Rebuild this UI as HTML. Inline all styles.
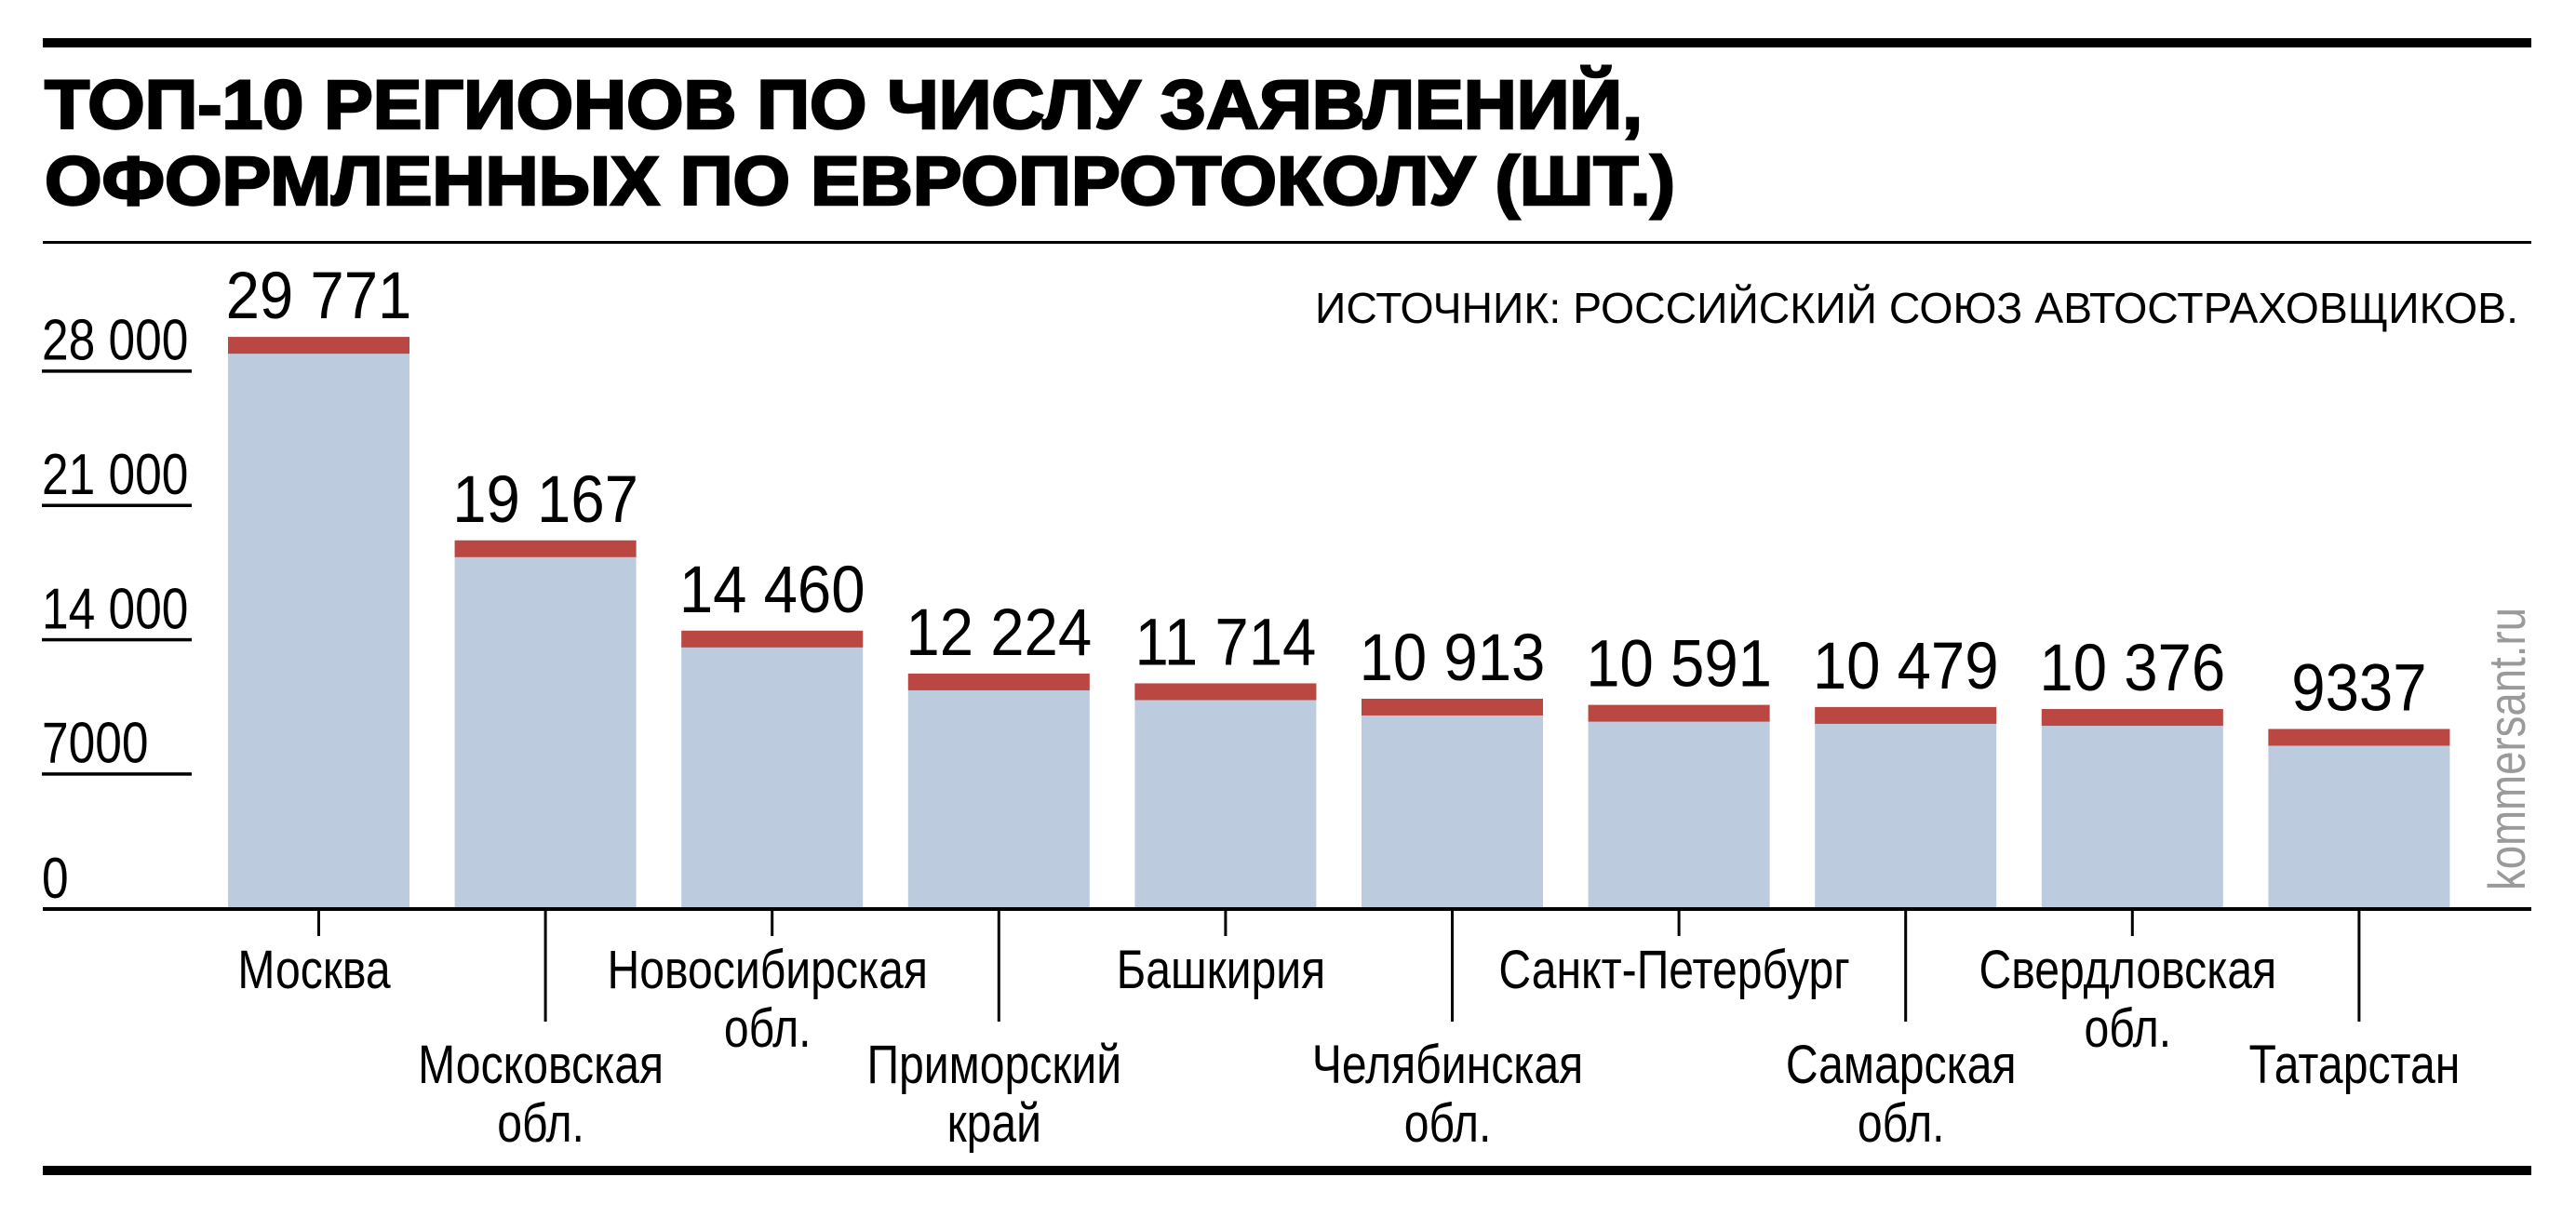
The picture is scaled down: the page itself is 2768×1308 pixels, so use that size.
<!DOCTYPE html>
<html><head><meta charset="utf-8"><style>
html,body{margin:0;padding:0;background:#fff;}
svg{display:block;font-family:"Liberation Sans","DejaVu Sans",sans-serif;}
</style></head><body>
<svg id="chart" width="2768" height="1308" viewBox="0 0 2768 1308" xmlns="http://www.w3.org/2000/svg">
<rect x="46" y="41" width="2674" height="10" fill="#000"/>
<text x="48" y="138" font-size="74" font-weight="bold" stroke="#000" stroke-width="2.5" textLength="1717" lengthAdjust="spacingAndGlyphs">ТОП-10 РЕГИОНОВ ПО ЧИСЛУ ЗАЯВЛЕНИЙ,</text>
<text x="48" y="220" font-size="74" font-weight="bold" stroke="#000" stroke-width="2.5" textLength="1752" lengthAdjust="spacingAndGlyphs">ОФОРМЛЕННЫХ ПО ЕВРОПРОТОКОЛУ (ШТ.)</text>
<rect x="46" y="259" width="2674" height="3" fill="#000"/>
<text x="1413" y="347" font-size="46" textLength="1293" lengthAdjust="spacingAndGlyphs">ИСТОЧНИК: РОССИЙСКИЙ СОЮЗ АВТОСТРАХОВЩИКОВ.</text>
<g id="yaxis"></g>
<g id="bars"></g>
<g id="xaxis"></g>
<rect x="46" y="975" width="2674" height="4" fill="#000"/>
<text transform="translate(2713,957) rotate(-90)" font-size="56" fill="#9a9a9a" textLength="304" lengthAdjust="spacingAndGlyphs">kommersant.ru</text>
<rect x="46" y="1253" width="2674" height="10" fill="#000"/>
</svg>
<script>
const categories = ["Москва","Московская обл.","Новосибирская обл.","Приморский край","Башкирия","Челябинская обл.","Санкт-Петербург","Самарская обл.","Свердловская обл.","Татарстан"];
const categoryLines = [["Москва"],["Московская","обл."],["Новосибирская","обл."],["Приморский","край"],["Башкирия"],["Челябинская","обл."],["Санкт-Петербург"],["Самарская","обл."],["Свердловская","обл."],["Татарстан"]];
const values = [29771,19167,14460,12224,11714,10913,10591,10479,10376,9337];
const valueLabels = ["29 771","19 167","14 460","12 224","11 714","10 913","10 591","10 479","10 376","9337"];
const yTicks = [0,7000,14000,21000,28000];
const yTickLabels = ["0","7000","14 000","21 000","28 000"];

const NS = "http://www.w3.org/2000/svg";
const zeroY = 976, k = 0.02062;
function yScale(v){ return zeroY - v * k; }
const barW = 195, pitch = 243.6, x0 = 245;
function xLeft(i){ return x0 + i * pitch; }
function xCenter(i){ return xLeft(i) + barW / 2; }
function mk(tag, attrs, parent){ const e = document.createElementNS(NS, tag); for (const a in attrs) e.setAttribute(a, attrs[a]); parent.appendChild(e); return e; }

const yg = document.getElementById('yaxis');
yTicks.forEach((t, i) => {
  const y = yScale(t);
  const tx = mk('text', {x: 45, y: (t === 0 ? 965 : y - 12), 'font-size': 62, transform: `translate(45,0) scale(0.83,1) translate(-45,0)`}, yg);
  
  
  tx.textContent = yTickLabels[i];
  if (t !== 0) {
    const ln = mk('rect', {x: 45, y: y - 1.5, width: 161, height: 3.5, fill: '#000'}, yg);
    
    
  }
});

const bg = document.getElementById('bars');
values.forEach((v, i) => {
  const top = yScale(v);
  const b = mk('rect', {x: xLeft(i), y: top, width: barW, height: zeroY - top, fill: '#bccbde'}, bg);
  
  
  const c = mk('rect', {x: xLeft(i), y: top, width: barW, height: 18, fill: '#bb4743'}, bg);
  
  
  const cx = xCenter(i);
  const t = mk('text', {x: cx, y: top - 20, 'font-size': 71, 'text-anchor': 'middle', transform: `translate(${cx},0) scale(0.92,1) translate(${-cx},0)`}, bg);
  
  
  t.textContent = valueLabels[i];
});

const xg = document.getElementById('xaxis');
categoryLines.forEach((lines, i) => {
  const cx = xCenter(i);
  const odd = i % 2 === 1;
  const tk = mk('rect', {x: cx - 1.5, y: zeroY, width: 3, height: odd ? 122 : 30, fill: '#000'}, xg);
  
  
  const base = odd ? 1164 : 1062;
  lines.forEach((s, j) => {
    const t = mk('text', {x: cx - 6, y: base + j * 63, 'font-size': 58, 'text-anchor': 'middle', transform: `translate(${cx},0) scale(0.83,1) translate(${-cx},0)`}, xg);
    
    
    t.textContent = s;
  });
});
</script>
</body></html>
